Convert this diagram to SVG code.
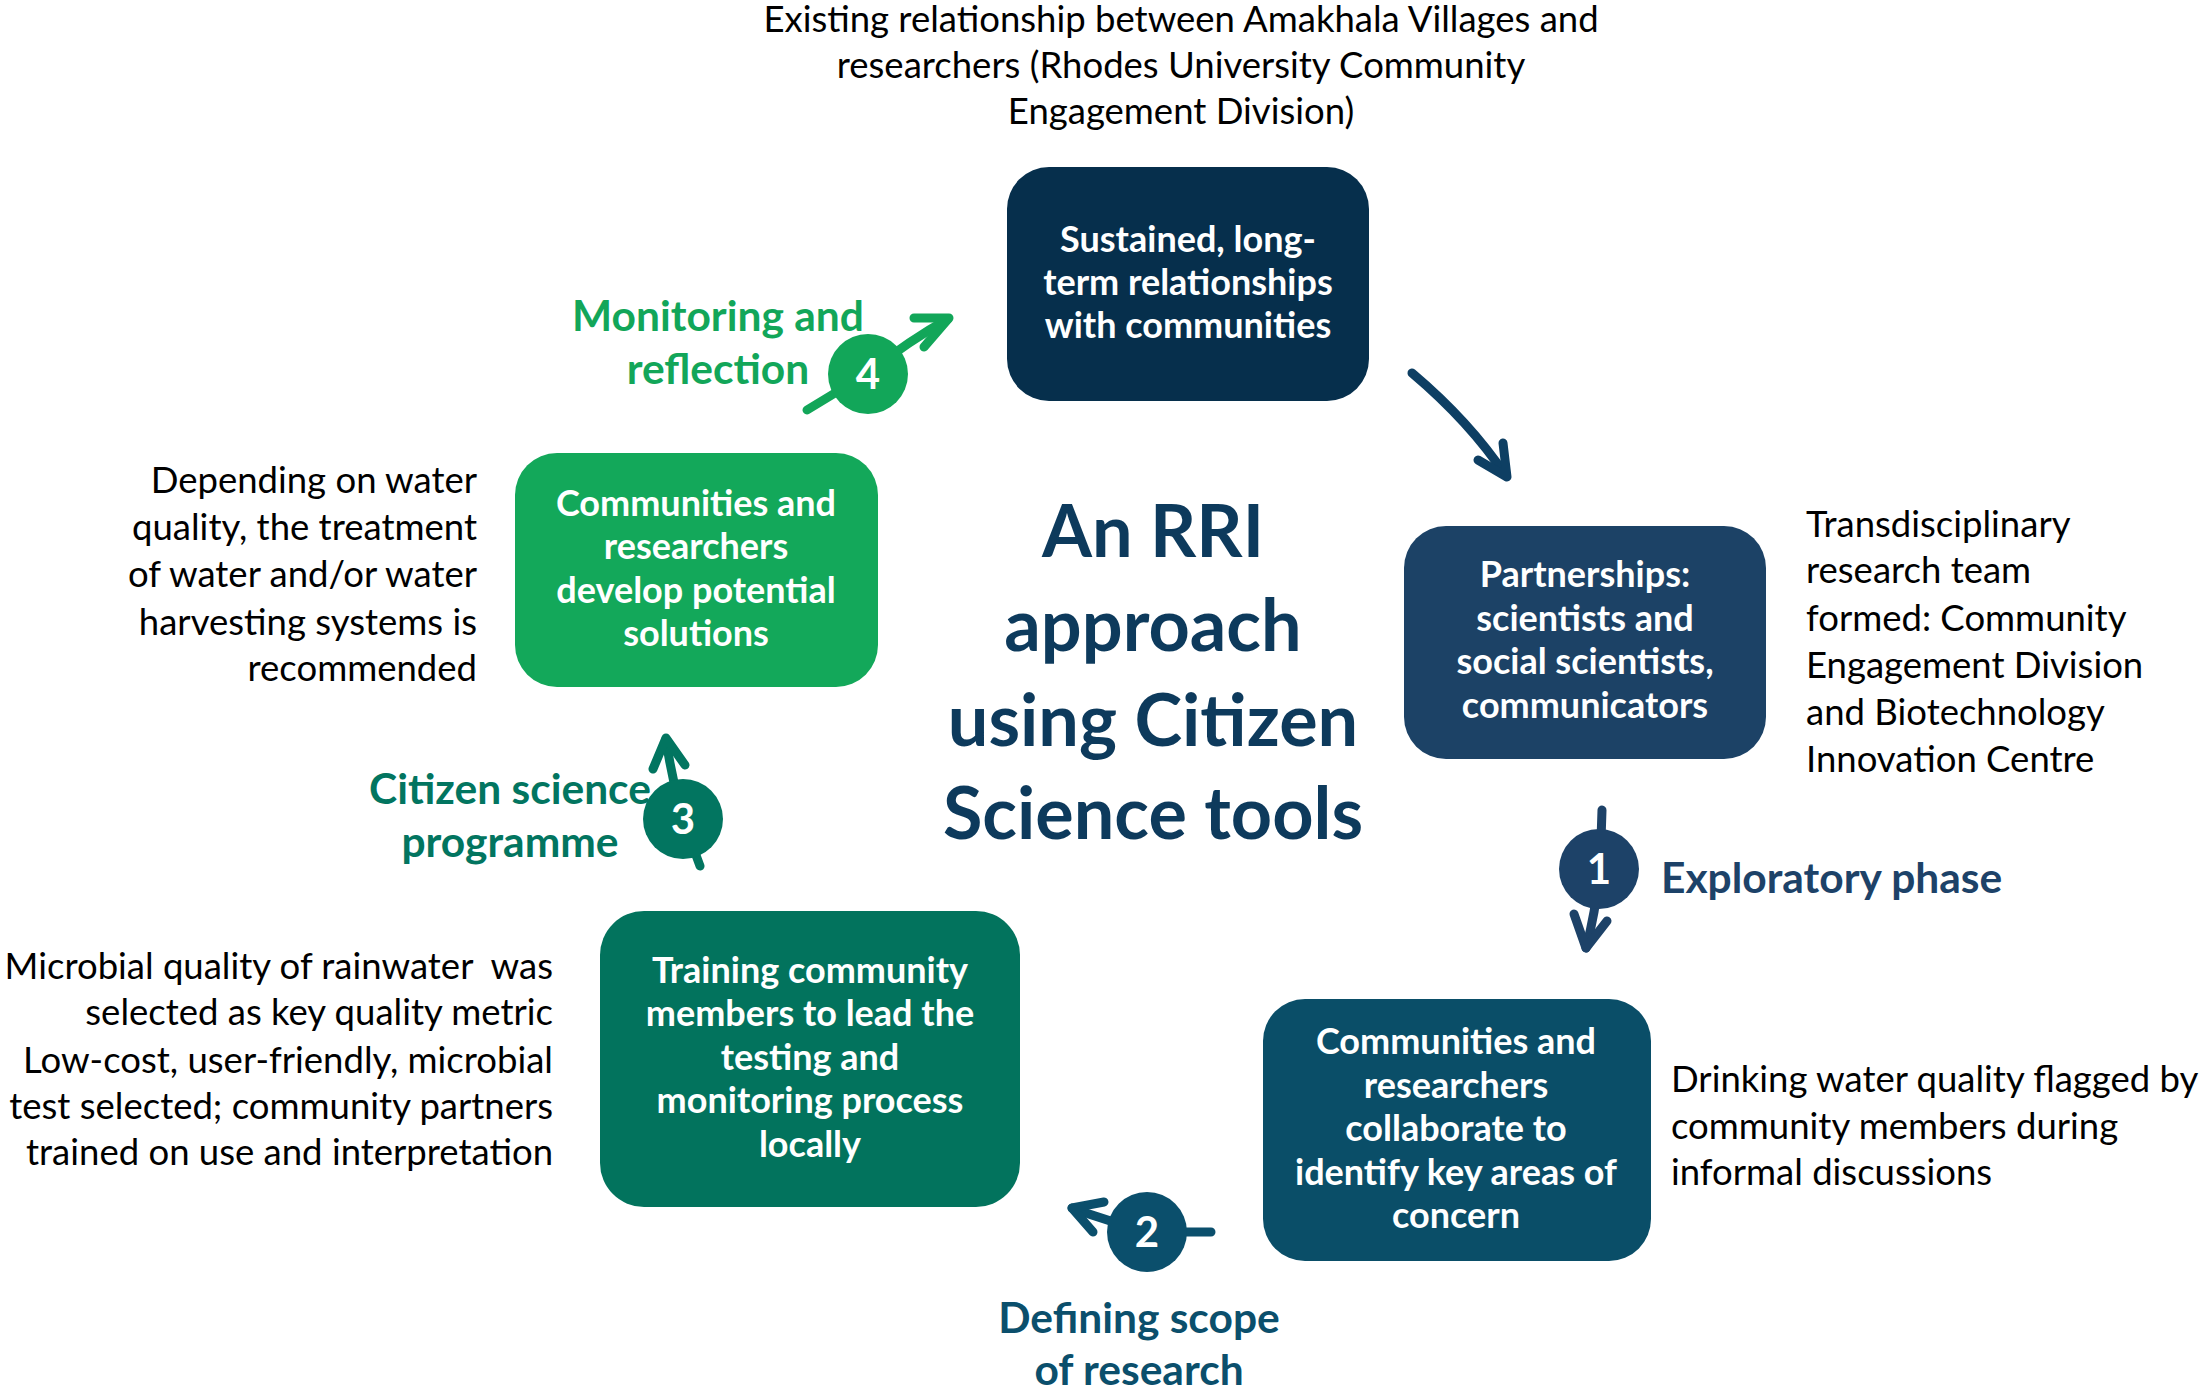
<svg xmlns="http://www.w3.org/2000/svg" width="2200" height="1395" viewBox="0 0 2200 1395">
<defs>
<style>
.cap{font-family:Lato,"Noto Sans","Liberation Sans",sans-serif;font-size:36.5px;fill:#000;white-space:pre}
.bt{font-family:Lato,"Noto Sans","Liberation Sans",sans-serif;font-size:36px;font-weight:bold;fill:#fff;text-anchor:middle}
.lbl{font-family:Lato,"Noto Sans","Liberation Sans",sans-serif;font-size:42.5px;font-weight:bold}
.num{font-family:Lato,"Noto Sans","Liberation Sans",sans-serif;font-size:42px;font-weight:bold;fill:#fff;text-anchor:middle}
.ttl{font-family:Lato,"Noto Sans","Liberation Sans",sans-serif;font-size:72px;font-weight:bold;fill:#0d3a5c;text-anchor:middle}
.ln{fill:none;stroke-width:9;stroke-linecap:round;stroke-linejoin:round}
</style>
</defs>
<rect width="2200" height="1395" fill="#fff"/>

<g id="caption-top">
<text class="cap" text-anchor="middle" x="1181" y="32">Existing relationship between Amakhala Villages and</text>
<text class="cap" text-anchor="middle" x="1181" y="78">researchers (Rhodes University Community</text>
<text class="cap" text-anchor="middle" x="1181" y="124">Engagement Division)</text>
</g>

<g id="title">
<text class="ttl" x="1153" y="557">An RRI</text>
<text class="ttl" x="1153" y="651">approach</text>
<text class="ttl" x="1153" y="746">using Citizen</text>
<text class="ttl" x="1153" y="839">Science tools</text>
</g>

<g id="node-sustained">
<rect x="1007" y="167" width="362" height="234" rx="42" fill="#062f4c"/>
<text class="bt" x="1188" y="252">Sustained, long-</text>
<text class="bt" x="1188" y="295">term relationships</text>
<text class="bt" x="1188" y="338">with communities</text>
</g>

<g id="node-partnerships">
<rect x="1404" y="526" width="362" height="233" rx="42" fill="#1c4266"/>
<text class="bt" x="1585" y="587">Partnerships:</text>
<text class="bt" x="1585" y="631">scientists and</text>
<text class="bt" x="1585" y="674">social scientists,</text>
<text class="bt" x="1585" y="718">communicators</text>
</g>

<g id="node-identify">
<rect x="1263" y="999" width="388" height="262" rx="42" fill="#0a4e68"/>
<text class="bt" x="1456" y="1054">Communities and</text>
<text class="bt" x="1456" y="1098">researchers</text>
<text class="bt" x="1456" y="1141">collaborate to</text>
<text class="bt" x="1456" y="1185">identify key areas of</text>
<text class="bt" x="1456" y="1228">concern</text>
</g>

<g id="node-training">
<rect x="600" y="911" width="420" height="296" rx="44" fill="#02735d"/>
<text class="bt" x="810" y="983">Training community</text>
<text class="bt" x="810" y="1026">members to lead the</text>
<text class="bt" x="810" y="1070">testing and</text>
<text class="bt" x="810" y="1113">monitoring process</text>
<text class="bt" x="810" y="1157">locally</text>
</g>

<g id="node-solutions">
<rect x="515" y="453" width="363" height="234" rx="42" fill="#13a85a"/>
<text class="bt" x="696" y="516">Communities and</text>
<text class="bt" x="696" y="559">researchers</text>
<text class="bt" x="696" y="603">develop potential</text>
<text class="bt" x="696" y="646">solutions</text>
</g>

<g id="note-transdisciplinary">
<text class="cap" x="1806" y="537">Transdisciplinary</text>
<text class="cap" x="1806" y="583">research team</text>
<text class="cap" x="1806" y="631">formed: Community</text>
<text class="cap" x="1806" y="678">Engagement Division</text>
<text class="cap" x="1806" y="725">and Biotechnology</text>
<text class="cap" x="1806" y="772">Innovation Centre</text>
</g>

<g id="note-drinking">
<text class="cap" x="1671" y="1092">Drinking water quality flagged by</text>
<text class="cap" x="1671" y="1139">community members during</text>
<text class="cap" x="1671" y="1185">informal discussions</text>
</g>

<g id="note-microbial">
<text class="cap" text-anchor="end" x="553" y="979">Microbial quality of rainwater  was</text>
<text class="cap" text-anchor="end" x="553" y="1025">selected as key quality metric</text>
<text class="cap" text-anchor="end" x="553" y="1073">Low-cost, user-friendly, microbial</text>
<text class="cap" text-anchor="end" x="553" y="1119">test selected; community partners</text>
<text class="cap" text-anchor="end" x="553" y="1165">trained on use and interpretation</text>
</g>

<g id="note-depending">
<text class="cap" text-anchor="end" x="477" y="493">Depending on water</text>
<text class="cap" text-anchor="end" x="477" y="540">quality, the treatment</text>
<text class="cap" text-anchor="end" x="477" y="587">of water and/or water</text>
<text class="cap" text-anchor="end" x="477" y="635">harvesting systems is</text>
<text class="cap" text-anchor="end" x="477" y="681">recommended</text>
</g>

<g id="connectors">
<g id="arrow-top">
<path class="ln" stroke="#0e3f63" d="M1412,373 Q1470,422 1506,476"/>
<polyline class="ln" stroke="#0e3f63" points="1478,460 1507,477 1503,443"/>
</g>
<g id="arrow-1">
<path class="ln" stroke="#1d4268" d="M1602,810 L1600,870 Q1595,915 1586,948"/>
<polyline class="ln" stroke="#1d4268" points="1574,914 1586,948 1607,921"/>
</g>
<g id="arrow-2">
<path class="ln" stroke="#0b4f6c" d="M1211,1232 L1150,1232 Q1110,1222 1072,1208"/>
<polyline class="ln" stroke="#0b4f6c" points="1104,1202 1072,1208 1093,1232"/>
</g>
<g id="arrow-3">
<path class="ln" stroke="#027560" d="M700,866 L683,820 Q672,780 666,739"/>
<polyline class="ln" stroke="#027560" points="653,769 666,738 685,765"/>
</g>
<g id="arrow-4">
<path class="ln" stroke="#12a659" d="M807,410 L868,373 Q910,340 948,319"/>
<polyline class="ln" stroke="#12a659" points="914,318 949,318 924,347"/>
</g>
</g>

<g id="step-1">
<circle cx="1599" cy="869" r="40" fill="#1d4268"/>
<text class="num" x="1599" y="884">1</text>
<text class="lbl" fill="#1d4268" x="1661" y="893">Exploratory phase</text>
</g>
<g id="step-2">
<circle cx="1147" cy="1232" r="40" fill="#0b4f6c"/>
<text class="num" x="1147" y="1247">2</text>
<text class="lbl" fill="#0b4f6c" text-anchor="middle" x="1139" y="1333">Defining scope</text>
<text class="lbl" fill="#0b4f6c" text-anchor="middle" x="1139" y="1385">of research</text>
</g>
<g id="step-3">
<circle cx="683" cy="819" r="40" fill="#027560"/>
<text class="num" x="683" y="834">3</text>
<text class="lbl" fill="#027560" text-anchor="middle" x="510" y="804">Citizen science</text>
<text class="lbl" fill="#027560" text-anchor="middle" x="510" y="857">programme</text>
</g>
<g id="step-4">
<circle cx="868" cy="374" r="40" fill="#12a659"/>
<text class="num" x="868" y="389">4</text>
<text class="lbl" fill="#12a659" text-anchor="middle" x="718" y="331">Monitoring and</text>
<text class="lbl" fill="#12a659" text-anchor="middle" x="718" y="384">reflection</text>
</g>
</svg>
